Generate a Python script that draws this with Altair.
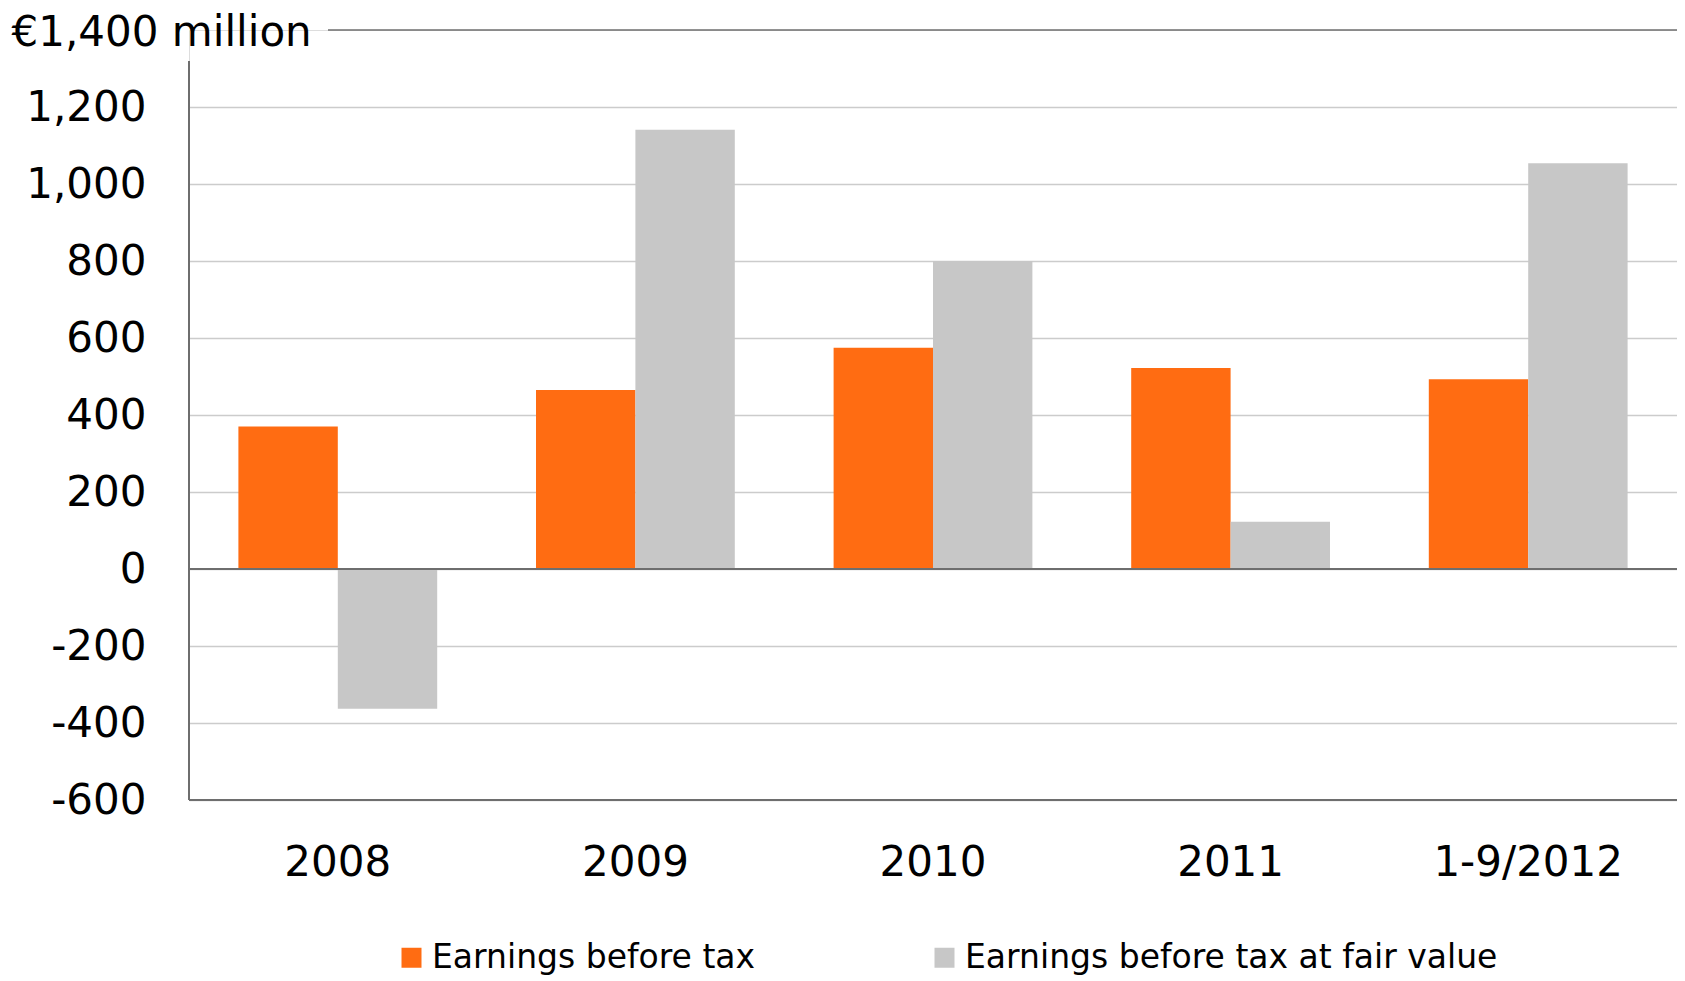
import altair as alt
import pandas as pd

categories = ["2008", "2009", "2010", "2011", "1-9/2012"]
series = ["Earnings before tax", "Earnings before tax at fair value"]
earnings_before_tax = [370, 465, 575, 522, 493]
earnings_fair_value = [-363, 1141, 800, 123, 1054]
y_ticks = [-600, -400, -200, 0, 200, 400, 600, 800, 1000, 1200]

ORANGE = "#FF6C12"
GRAY = "#C7C7C7"
DARK = "#6E6E6E"
GRID = "#CCCCCC"
FONT = "DejaVu Sans"

W, H = 1488, 770

rows = []
for c, a, b in zip(categories, earnings_before_tax, earnings_fair_value):
    rows.append({"category": c, "series": series[0], "value": a})
    rows.append({"category": c, "series": series[1], "value": b})
df = pd.DataFrame(rows)

yscale = alt.Scale(domain=[-600, 1400], nice=False)

bars = alt.Chart(df).mark_bar().encode(
    x=alt.X(
        "category:N",
        sort=categories,
        scale=alt.Scale(paddingInner=0.332, paddingOuter=0.166),
        axis=alt.Axis(
            title=None, labelAngle=0, labelFont=FONT, labelFontSize=42,
            labelColor="#000000", labelPadding=42, ticks=False, tickSize=0,
            domain=False, grid=False, labelLimit=600,
        ),
    ),
    xOffset=alt.XOffset("series:N", sort=series,
                        scale=alt.Scale(paddingInner=0, paddingOuter=0)),
    y=alt.Y(
        "value:Q",
        scale=yscale,
        axis=alt.Axis(
            values=y_ticks,
            labelExpr="(datum.value < 0 ? '-' : '') + format(abs(datum.value), ',.0f')",
            title="€1,400 million",
            titleAngle=0, titleAlign="left", titleBaseline="middle",
            titleX=-178, titleY=2, titleFont=FONT, titleFontSize=42,
            titleFontWeight="normal", titleColor="#000000", titleLimit=600,
            labelFont=FONT, labelFontSize=42, labelColor="#000000",
            labelPadding=43, labelLimit=400, ticks=False, tickSize=0,
            domain=False, grid=True, gridColor=GRID, gridWidth=1.6,
        ),
    ),
    color=alt.Color(
        "series:N",
        sort=series,
        scale=alt.Scale(domain=series, range=[ORANGE, GRAY]),
        legend=alt.Legend(
            title=None, orient="none", legendX=206, legendY=911,
            direction="horizontal", columns=2, symbolType="square",
            symbolSize=400, symbolStrokeWidth=0, labelFont=FONT,
            labelFontSize=33, labelColor="#000000", labelOffset=4,
            columnPadding=172, padding=0, labelLimit=0,
        ),
    ),
)

one = pd.DataFrame({"v": [0]})

zero_rule = alt.Chart(one).mark_rule(color=DARK, strokeWidth=2).encode(
    y=alt.datum(0, scale=yscale)
)
bottom_rule = alt.Chart(one).mark_rule(color=DARK, strokeWidth=2).encode(
    y=alt.datum(-600)
)
top_rule = alt.Chart(one).mark_rule(color=DARK, strokeWidth=1.5).encode(
    y=alt.datum(1400), x=alt.value(139), x2=alt.value(W)
)
left_rule = alt.Chart(one).mark_rule(color=DARK, strokeWidth=2).encode(
    x=alt.value(0), y=alt.value(31), y2=alt.value(H)
)

chart = alt.layer(bars, zero_rule, bottom_rule, top_rule, left_rule).properties(
    width=W,
    height=H,
    autosize=alt.AutoSizeParams(type="none"),
    padding={"left": 181, "top": 22, "right": 0, "bottom": 180},
).configure_view(stroke=None).configure(background="#FFFFFF")

chart.save("out.html", embed_options={"renderer": "svg", "actions": False})
